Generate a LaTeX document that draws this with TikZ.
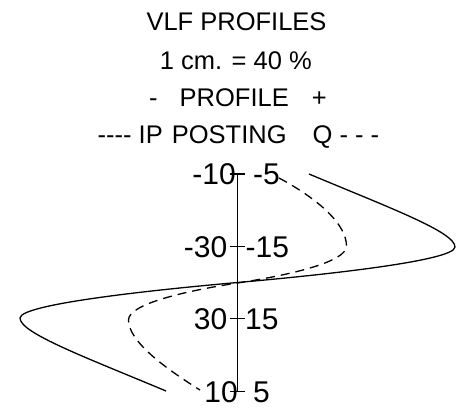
\documentclass[tikz,border=0pt]{standalone}
\usepackage{fontspec}
\setmainfont{Liberation Sans}
\begin{document}
\begin{tikzpicture}[x=1pt,y=-1pt,
  ttl/.style={inner sep=0pt,font=\fontsize{25.5}{30}\selectfont,text height=18.2pt,text depth=0pt},
  lbl/.style={inner sep=0pt,font=\fontsize{30}{36}\selectfont,text height=21.5pt,text depth=0pt},
  ln/.style={line width=1.3pt,line join=round},
  dsh/.style={line width=1.3pt,dash pattern=on 9pt off 6pt}]
\useasboundingbox (0,0) rectangle (476,413);
% titles
\node[ttl] (t1) at (236.5,21.7) {VLF PROFILES};
\node[ttl] (t2) at (235.8,60.5) {1 cm. = 40 \%};
\node[ttl,anchor=west] (t3) at (149,97.5) {{-}\hspace{22pt}PROFILE\hspace{23pt}+};
\node[ttl,anchor=west] (t4) at (97.5,134.7) {{-}{-}{-}{-} IP\hspace{9pt}POSTING\hspace{26pt}Q {-} {-} {-}};
% axis
\coordinate (atop) at (237.7,174);
\coordinate (abot) at (237.7,391.7);
\draw[ln] (atop) -- (abot);
\foreach \n/\yy in {a/174,b/246.7,c/318.3,d/391.7}{
  \coordinate (tl\n) at (230,\yy);
  \coordinate (tr\n) at (245,\yy);
  \draw[ln] (tl\n) -- (tr\n);
}
% labels
\node[lbl,anchor=east] (l1) at (236,174) {-10};
\node[lbl,anchor=west] (r1) at (253,174) {-5};
\node[lbl,anchor=east] (l2) at (227.5,246.7) {-30};
\node[lbl,anchor=west] (r2) at (245.5,246.7) {-15};
\node[lbl,anchor=east] (l3) at (227.5,318.3) {30};
\node[lbl,anchor=west] (r3) at (245,318.3) {15};
\node[lbl,anchor=east] (l4) at (238,391.7) {10};
\node[lbl,anchor=west] (r4) at (253,391.7) {5};
% solid IP profile
\coordinate (s0) at (309,174);
\coordinate (s1) at (455,247);
\coordinate (sc) at (237.5,282.5);
\coordinate (s2) at (20,318);
\coordinate (s3) at (166,391);
\draw[ln] (s0) .. controls (390,208) and (455,232) .. (s1)
  .. controls (455,262) and (300,277) .. (sc)
  .. controls (175,288) and (20,303) .. (s2)
  .. controls (20,333) and (85,357) .. (s3);
% dashed Q profile
\coordinate (d0) at (279,178);
\coordinate (d1) at (346.5,246);
\coordinate (dc) at (237.5,283);
\coordinate (d2) at (128.5,320);
\coordinate (d3) at (200,390);
\draw[dsh] (d0) .. controls (320,200) and (346.5,225) .. (d1)
  .. controls (346.5,262) and (290,275) .. (dc)
  .. controls (185,291) and (128.5,304) .. (d2)
  .. controls (128.5,340) and (160,365) .. (d3);
\end{tikzpicture}
\end{document}
